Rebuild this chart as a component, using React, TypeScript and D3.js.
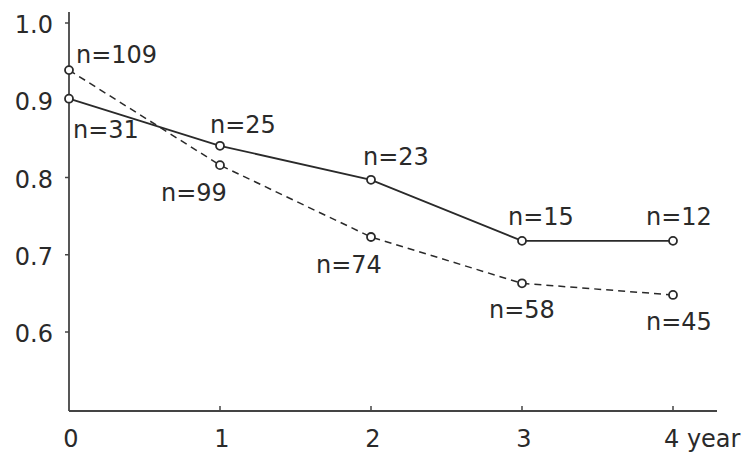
import * as d3 from "d3";

// survival proportion by year of follow-up
const years = [0, 1, 2, 3, 4];
const solidValues = [0.902, 0.841, 0.797, 0.718, 0.718];
const dashedValues = [0.939, 0.816, 0.723, 0.663, 0.648];
const solidN = ["n=31", "n=25", "n=23", "n=15", "n=12"];
const dashedN = ["n=109", "n=99", "n=74", "n=58", "n=45"];
const yTicks = [0.6, 0.7, 0.8, 0.9, 1.0];

// label offsets from each point (layout only)
const solidLabelOffset = [
  [4, 39],
  [-10, -13],
  [-8, -15],
  [-14, -16],
  [-27, -16],
];
const dashedLabelOffset = [
  [7, -7],
  [-59, 36],
  [-55, 36],
  [-33, 35],
  [-27, 35],
];

const W = 747;
const H = 453;
const ink = "#2a2a2a";
const font = "DejaVu Sans";

function Chart() {
  const x = d3.scaleLinear().domain([0, 4]).range([69, 673]);
  const y = d3.scaleLinear().domain([0.6, 1.0]).range([332, 23]);
  const axisY = 411;

  const line = d3
    .line<number>()
    .x((_, i) => x(years[i]))
    .y((d) => y(d));

  return (
    <svg width={W} height={H} style={{ display: "block", background: "#fff" }}>
      {/* axes */}
      <line x1={x(0)} y1={12} x2={x(0)} y2={axisY} stroke="#444" strokeWidth={1.8} />
      <line x1={x(0)} y1={axisY} x2={717} y2={axisY} stroke="#444" strokeWidth={1.8} />

      {yTicks.map((t) => (
        <g key={t}>
          <line x1={x(0) - 4} y1={y(t)} x2={x(0)} y2={y(t)} stroke="#444" strokeWidth={1.5} />
          <text
            x={53}
            y={y(t) + 3}
            textAnchor="end"
            dominantBaseline="middle"
            fontFamily={font}
            fontSize={24}
            fill={ink}
          >
            {t.toFixed(1)}
          </text>
        </g>
      ))}

      {years.map((t) => (
        <g key={t}>
          {t > 0 && (
            <line x1={x(t)} y1={axisY - 5} x2={x(t)} y2={axisY} stroke="#444" strokeWidth={1.5} />
          )}
          <text
            x={t === 4 ? x(t) - 9 : x(t) + 2}
            y={447}
            textAnchor={t === 4 ? "start" : "middle"}
            fontFamily={font}
            fontSize={24}
            fill={ink}
          >
            {t === 4 ? "4 year" : t}
          </text>
        </g>
      ))}

      {/* series */}
      <path d={line(dashedValues) ?? ""} fill="none" stroke={ink} strokeWidth={1.5} strokeDasharray="7,5" />
      <path d={line(solidValues) ?? ""} fill="none" stroke={ink} strokeWidth={1.8} />

      {dashedValues.map((v, i) => (
        <circle key={"d" + i} cx={x(years[i])} cy={y(v)} r={4} fill="#fff" stroke={ink} strokeWidth={1.8} />
      ))}
      {solidValues.map((v, i) => (
        <circle key={"s" + i} cx={x(years[i])} cy={y(v)} r={4} fill="#fff" stroke={ink} strokeWidth={1.8} />
      ))}

      {/* n labels */}
      {solidN.map((s, i) => (
        <text
          key={"sl" + i}
          x={x(years[i]) + solidLabelOffset[i][0]}
          y={y(solidValues[i]) + solidLabelOffset[i][1]}
          fontFamily={font}
          fontSize={24}
          fill={ink}
        >
          {s}
        </text>
      ))}
      {dashedN.map((s, i) => (
        <text
          key={"dl" + i}
          x={x(years[i]) + dashedLabelOffset[i][0]}
          y={y(dashedValues[i]) + dashedLabelOffset[i][1]}
          fontFamily={font}
          fontSize={24}
          fill={ink}
        >
          {s}
        </text>
      ))}
    </svg>
  );
}

export default function App() {
  return (
    <>
      <style>{`body{margin:0;}`}</style>
      <Chart />
    </>
  );
}
